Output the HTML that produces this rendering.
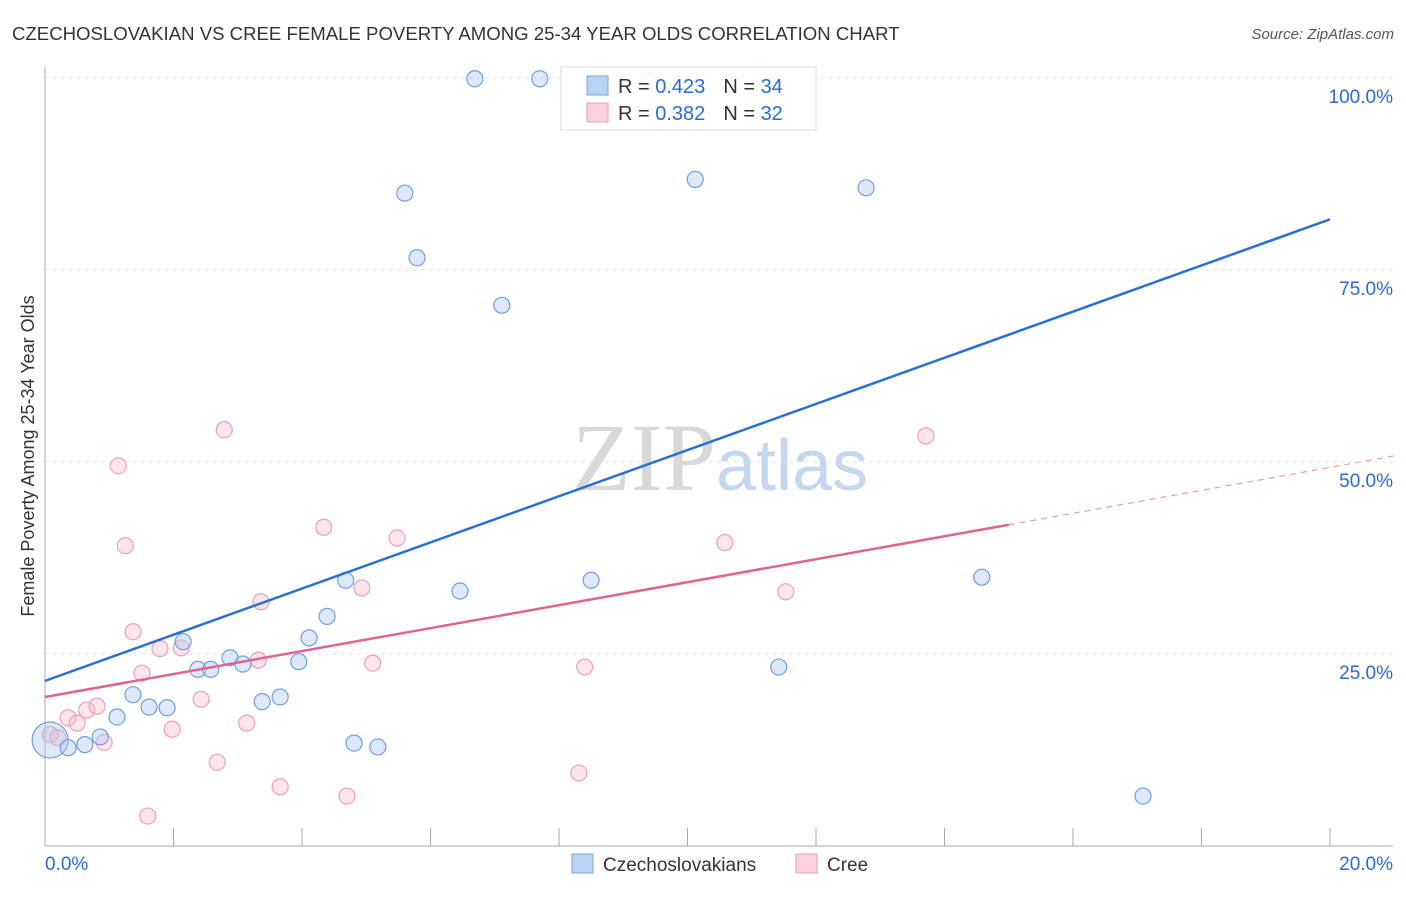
<!DOCTYPE html>
<html><head><meta charset="utf-8"><style>
body{margin:0;background:#fff;font-family:"Liberation Sans",sans-serif;}
svg text{font-family:"Liberation Sans",sans-serif;}
</style></head><body>
<svg width="1406" height="892" viewBox="0 0 1406 892">
<text x="12" y="40" font-size="18.6" fill="#333">CZECHOSLOVAKIAN VS CREE FEMALE POVERTY AMONG 25-34 YEAR OLDS CORRELATION CHART</text>
<text x="1394" y="39" font-size="15" fill="#555" font-style="italic" text-anchor="end">Source: ZipAtlas.com</text>
<g id="grid"></g>
<g id="axes"></g>
<text x="720" y="490" font-size="96" text-anchor="middle"><tspan fill="#d8d8d8" font-family="Liberation Serif">ZIP</tspan><tspan fill="#c5d6ef" font-size="72">atlas</tspan></text>
<g id="pts"></g>
<g id="trends"></g>
<text transform="translate(34,456) rotate(-90)" font-size="18" fill="#333" text-anchor="middle">Female Poverty Among 25-34 Year Olds</text>
<g>
<rect x="561" y="67" width="255" height="63" fill="#fff" fill-opacity="0.9" stroke="#ddd"/>
<rect x="587" y="76" width="21" height="19" fill="#b8d3f5" stroke="#7aa6e0"/>
<text x="618" y="93" font-size="20" fill="#333">R = <tspan fill="#2a6bd1">0.423</tspan><tspan dx="18">N = </tspan><tspan fill="#2a6bd1">34</tspan></text>
<rect x="587" y="103" width="21" height="19" fill="#fcd0dc" stroke="#eba0b5"/>
<text x="618" y="120" font-size="20" fill="#333">R = <tspan fill="#2a6bd1">0.382</tspan><tspan dx="18">N = </tspan><tspan fill="#2a6bd1">32</tspan></text>
</g>
<g>
<rect x="572" y="854" width="21" height="19" fill="#b8d3f5" stroke="#7aa6e0"/>
<text x="603" y="871" font-size="19" fill="#333">Czechoslovakians</text>
<rect x="796" y="854" width="21" height="19" fill="#fcd0dc" stroke="#eba0b5"/>
<text x="827" y="871" font-size="19" fill="#333">Cree</text>
</g>
</svg>
<script>
const blueX=[0.08,0.36,0.62,0.86,1.12,1.37,1.62,1.90,2.15,2.38,2.58,2.88,3.08,3.38,3.66,3.95,4.11,4.39,4.68,4.81,5.18,5.60,5.79,6.46,6.69,7.11,7.70,8.50,9.39,10.12,11.42,12.78,14.58,17.09];
const blueY=[13.8,12.8,13.2,14.2,16.8,19.7,18.1,18.0,26.6,23.0,23.0,24.5,23.7,18.8,19.4,24.0,27.1,29.9,34.6,13.4,12.9,85.0,76.6,33.2,99.9,70.4,99.9,34.6,99.7,86.8,23.3,85.7,35.0,6.5];
const pinkX=[0.08,0.20,0.36,0.50,0.65,0.81,0.92,1.14,1.25,1.37,1.51,1.60,1.79,1.98,2.12,2.43,2.68,2.79,3.14,3.32,3.36,3.66,4.34,4.70,4.93,5.10,5.48,8.31,8.40,10.58,11.53,13.71];
const pinkY=[14.5,14.1,16.7,16.0,17.7,18.2,13.5,49.5,39.1,27.9,22.5,3.9,25.7,15.2,25.8,19.1,10.9,54.2,16.0,24.2,31.8,7.7,41.5,6.5,33.6,23.8,40.1,9.5,23.3,39.5,33.1,53.4];
const blueTrend=[21.5,81.6];
const pinkTrend=[19.4,49.3];
const pinkSolidEnd=15.0;
const yTicks=[25,50,75,100];
const yTickLabels=["25.0%","50.0%","75.0%","100.0%"];
const NS="http://www.w3.org/2000/svg";
const sx=v=>45+v*64.25, sy=v=>846-v*7.68;
function mk(t,a,p){const e=document.createElementNS(NS,t);for(const k in a)e.setAttribute(k,a[k]);p.appendChild(e);return e;}
const grid=document.getElementById('grid'),axes=document.getElementById('axes'),pts=document.getElementById('pts'),tr=document.getElementById('trends');
yTicks.forEach((v,i)=>{
 const l=mk('line',{x1:45,x2:1393,y1:sy(v),y2:sy(v),stroke:'#e2e2e2','stroke-dasharray':'4,4'},grid);
 
 
 const t=mk('text',{x:1393,y:sy(v)+25,'font-size':19,fill:'#2a6bd1','text-anchor':'end'},axes);
 t.textContent=yTickLabels[i];
 
 
});
mk('line',{x1:45,x2:45,y1:67,y2:846,stroke:'#aaa'},axes);
mk('line',{x1:45,x2:1393,y1:846,y2:846,stroke:'#aaa'},axes);
for(let i=1;i<=10;i++){const tk=mk('line',{x1:sx(i*2),x2:sx(i*2),y1:828,y2:846,stroke:'#aaa'},axes);
 
 }
const x0=mk('text',{x:45,y:870,'font-size':19,fill:'#2a6bd1'},axes);x0.textContent='0.0%';


const x1=mk('text',{x:1393,y:870,'font-size':19,fill:'#2a6bd1','text-anchor':'end'},axes);x1.textContent='20.0%';


pinkX.forEach((x,i)=>{const c=mk('circle',{cx:sx(x),cy:sy(pinkY[i]),r:8,fill:'rgba(248,180,200,0.35)',stroke:'#eba0b5','stroke-width':1.2},pts);
 
 });
blueX.forEach((x,i)=>{const c=mk('circle',{cx:sx(x),cy:sy(blueY[i]),r:i===0?18:8,fill:'rgba(170,200,240,0.4)',stroke:'#6e9fe0','stroke-width':1.2},pts);
 
 });
const pk=v=>pinkTrend[0]+(pinkTrend[1]-pinkTrend[0])*v/20;
const bl=mk('line',{x1:sx(0),y1:sy(blueTrend[0]),x2:sx(20),y2:sy(blueTrend[1]),stroke:'#2a6fd6','stroke-width':2.5},tr);


const pl=mk('line',{x1:sx(0),y1:sy(pk(0)),x2:sx(pinkSolidEnd),y2:sy(pk(pinkSolidEnd)),stroke:'#e2648e','stroke-width':2.5},tr);


const pd=mk('line',{x1:sx(pinkSolidEnd),y1:sy(pk(pinkSolidEnd)),x2:sx(21),y2:sy(pk(21)),stroke:'#e99ab3','stroke-width':1.2,'stroke-dasharray':'6,5'},tr);


</script>
</body></html>
